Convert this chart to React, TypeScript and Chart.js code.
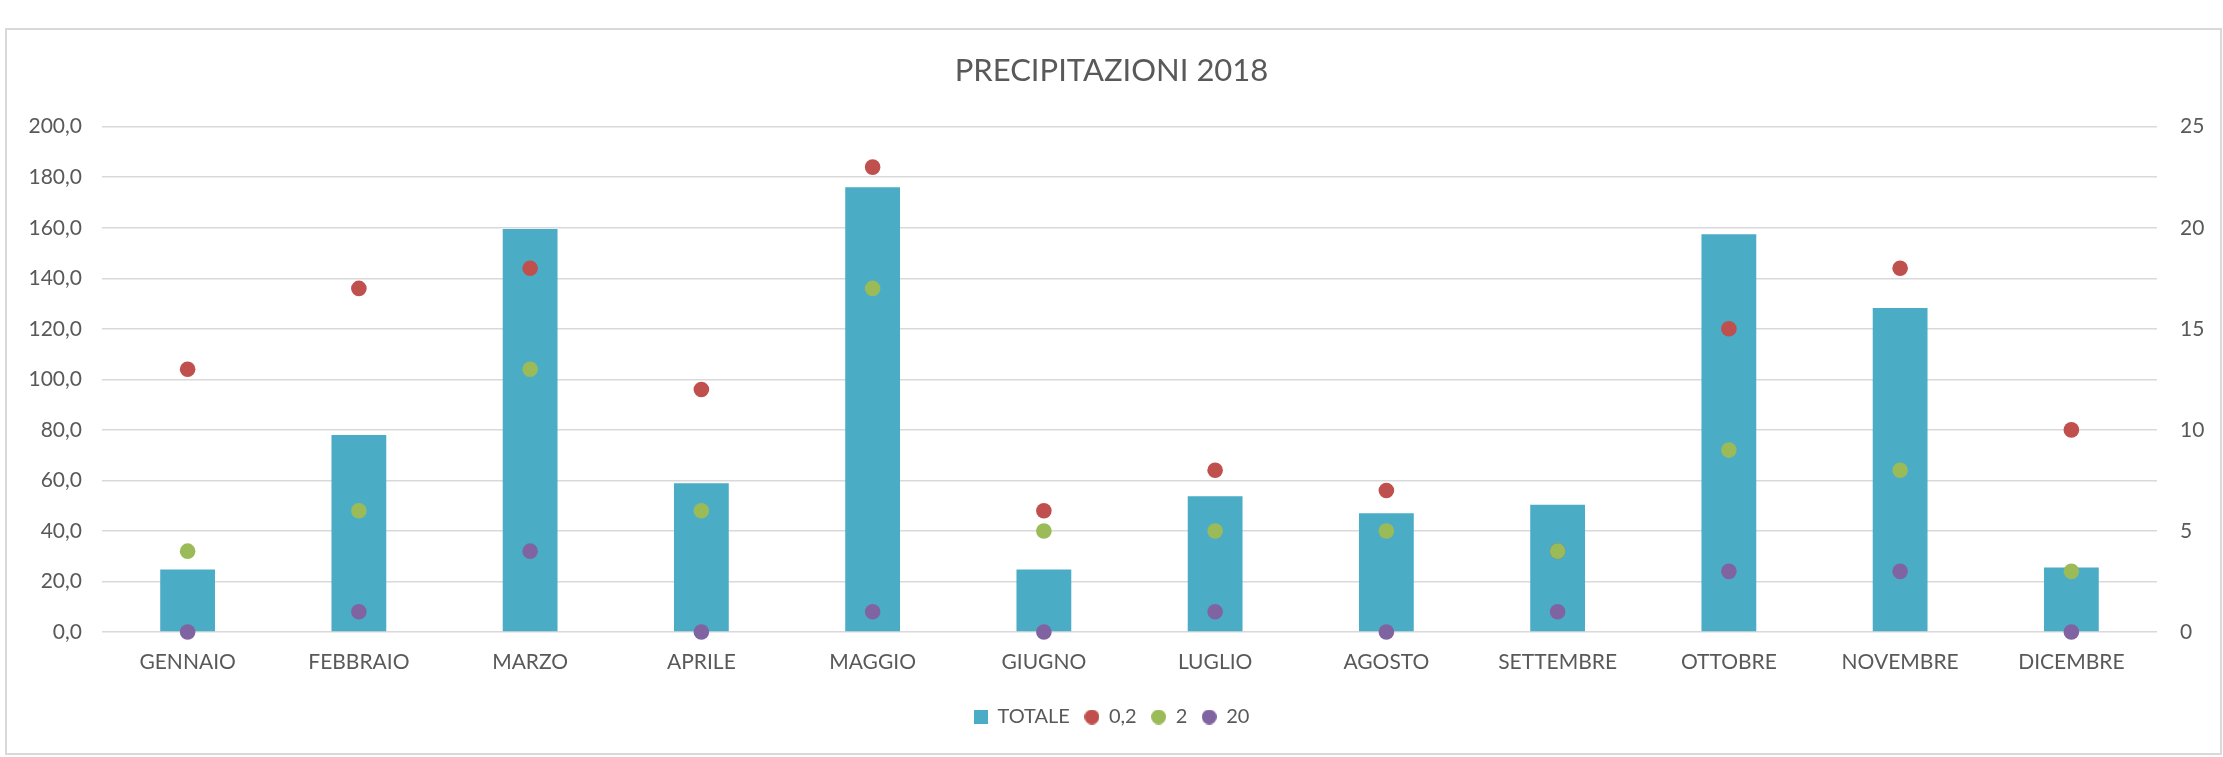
import React, { useEffect, useRef } from 'react';
import { Chart, registerables } from 'chart.js';

Chart.register(...registerables);

const TITLE = 'PRECIPITAZIONI 2018';
const MONTHS = ['GENNAIO', 'FEBBRAIO', 'MARZO', 'APRILE', 'MAGGIO', 'GIUGNO', 'LUGLIO', 'AGOSTO', 'SETTEMBRE', 'OTTOBRE', 'NOVEMBRE', 'DICEMBRE'];
const TOTALE = [24.7, 78.0, 159.5, 58.9, 176.0, 24.7, 53.7, 47.0, 50.4, 157.4, 128.2, 25.5];
const DAYS_02 = [13, 17, 18, 12, 23, 6, 8, 7, 4, 15, 18, 10];
const DAYS_2 = [4, 6, 13, 6, 17, 5, 5, 5, 4, 9, 8, 3];
const DAYS_20 = [0, 1, 4, 0, 1, 0, 1, 0, 1, 3, 3, 0];
const SERIES_NAMES = ['TOTALE', '0,2', '2', '20'];
const LEFT_MAX = 200;
const LEFT_STEP = 20;
const RIGHT_MAX = 25;
const RIGHT_STEP = 5;

const COLORS = ['#4BACC6', '#C0504D', '#9BBB59', '#8064A2'];
const TEXT = '#595959';
const GRID = '#D9D9D9';
const FONT = 'Lato';

function makeSquare(color: string, size: number) {
  const c = document.createElement('canvas');
  c.width = size;
  c.height = size;
  const ctx = c.getContext('2d')!;
  ctx.fillStyle = color;
  ctx.fillRect(0, 0, size, size);
  return c;
}

function makeCircle(color: string, d: number) {
  const c = document.createElement('canvas');
  c.width = d;
  c.height = d;
  const ctx = c.getContext('2d')!;
  ctx.fillStyle = color;
  ctx.beginPath();
  ctx.arc(d / 2, d / 2, d / 2, 0, Math.PI * 2);
  ctx.fill();
  return c;
}

export default function App() {
  const ref = useRef<HTMLCanvasElement | null>(null);

  useEffect(() => {
    if (!ref.current) return;
    const legendIcons = [
      makeSquare(COLORS[0], 14),
      makeCircle(COLORS[1], 15),
      makeCircle(COLORS[2], 15),
      makeCircle(COLORS[3], 15),
    ];
    const pointDs = (label: string, data: number[], color: string, order: number) => ({
      type: 'line' as const,
      label,
      data,
      yAxisID: 'y1',
      showLine: false,
      borderColor: color,
      backgroundColor: color,
      pointBackgroundColor: color,
      pointBorderColor: color,
      pointBorderWidth: 0,
      pointRadius: 7.8,
      pointHoverRadius: 7.8,
      order,
      clip: false as any,
    });

    const chart = new Chart(ref.current, {
      type: 'bar',
      data: {
        labels: MONTHS,
        datasets: [
          {
            type: 'bar',
            label: SERIES_NAMES[0],
            data: TOTALE,
            yAxisID: 'y',
            backgroundColor: COLORS[0],
            borderWidth: 0,
            barPercentage: 0.32,
            categoryPercentage: 1,
            order: 3,
          } as any,
          pointDs(SERIES_NAMES[1], DAYS_02, COLORS[1], 2),
          pointDs(SERIES_NAMES[2], DAYS_2, COLORS[2], 1),
          pointDs(SERIES_NAMES[3], DAYS_20, COLORS[3], 0),
        ],
      },
      options: {
        animation: false,
        responsive: true,
        maintainAspectRatio: false,
        layout: { padding: { left: 0, right: 0, top: 0, bottom: 20 } },
        font: { family: FONT },
        plugins: {
          tooltip: { enabled: false },
          title: {
            display: true,
            text: TITLE,
            color: TEXT,
            font: { family: FONT, size: 31, weight: 'normal' as any },
            padding: { top: 52, bottom: 37.5 },
          },
          legend: {
            position: 'bottom',
            labels: {
              color: TEXT,
              font: { family: FONT, size: 20 },
              usePointStyle: true,
              boxWidth: 14,
              boxHeight: 14,
              padding: 15,
              sort: (a: any, b: any) => a.datasetIndex - b.datasetIndex,
              generateLabels: (c: any) => {
                const items = Chart.defaults.plugins.legend.labels.generateLabels(c);
                items.forEach((it: any) => {
                  it.pointStyle = legendIcons[it.datasetIndex];
                });
                return items;
              },
            },
          },
        },
        scales: {
          x: {
            grid: { display: false, drawTicks: false },
            border: { display: false },
            ticks: {
              color: TEXT,
              font: { family: FONT, size: 21 },
              padding: 18,
              maxRotation: 0,
              autoSkip: false,
            },
            afterFit: (s: any) => {
              s.height = 60;
            },
          },
          y: {
            position: 'left',
            min: 0,
            max: LEFT_MAX,
            grid: { color: GRID, lineWidth: 1.5, drawTicks: false },
            border: { display: false },
            ticks: {
              stepSize: LEFT_STEP,
              color: TEXT,
              font: { family: FONT, size: 21 },
              padding: 20,
              callback: (v: any) => Number(v).toFixed(1).replace('.', ','),
            },
            afterFit: (s: any) => {
              s.width = 102;
            },
          },
          y1: {
            position: 'right',
            min: 0,
            max: RIGHT_MAX,
            grid: { display: false, drawTicks: false },
            border: { display: false },
            ticks: {
              stepSize: RIGHT_STEP,
              color: TEXT,
              font: { family: FONT, size: 21 },
              padding: 23,
              callback: (v: any) => String(v),
            },
            afterFit: (s: any) => {
              s.width = 66;
            },
          },
        },
      } as any,
    });
    return () => chart.destroy();
  }, []);

  return (
    <div style={{ position: 'absolute', left: 0, top: 0, width: 2223, height: 757, background: '#fff' }}>
      <div
        style={{
          position: 'absolute',
          left: 5,
          top: 28,
          width: 2217,
          height: 727,
          border: `2px solid ${GRID}`,
          boxSizing: 'border-box',
        }}
      />
      <div style={{ position: 'absolute', left: 0, top: 0, width: 2223, height: 757 }}>
        <canvas ref={ref} />
      </div>
    </div>
  );
}
